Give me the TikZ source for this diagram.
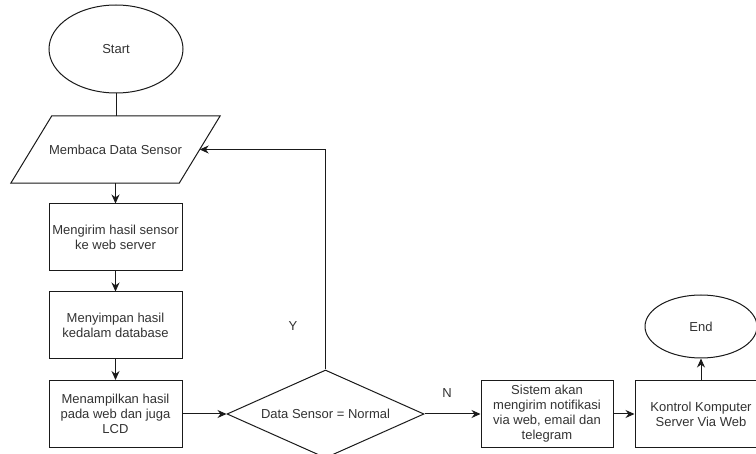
\documentclass[tikz,border=0pt]{standalone}
\usepackage{fontspec}
\setmainfont{Liberation Sans}
\usetikzlibrary{shapes.geometric,arrows.meta}
\definecolor{txt}{HTML}{333333}
\definecolor{ln}{HTML}{1A1A1A}
\tikzset{
  base/.style={draw=ln, line width=1pt, text=txt, font=\fontsize{13pt}{15pt}\selectfont, align=center, inner sep=0pt},
  procbox/.style={base, rectangle, minimum width=133pt, minimum height=67pt},
  term/.style={base, ellipse},
  ghost/.style={inner sep=0pt, text=txt, font=\fontsize{13pt}{15pt}\selectfont, align=center},
  conn/.style={draw=ln, line width=1pt},
  arr/.style={conn, -{Stealth[length=9pt,width=8pt]}},
  lbl/.style={text=txt, font=\fontsize{13pt}{15pt}\selectfont, inner sep=0pt}
}
\begin{document}
\begin{tikzpicture}[x=1pt,y=-1pt]
\useasboundingbox (0,0) rectangle (756,454);
\clip (0,0) rectangle (756,454);
\fill[white] (0,0) rectangle (756,454);

\node[term, minimum width=134pt, minimum height=88pt] (start) at (116,49) {Start};

\node[ghost, minimum width=168pt, minimum height=67pt] (read) at (115.5,149.5) {Membaca Data Sensor};
\draw[conn, line join=miter] ([xshift=20.5pt]read.north west) -- ([xshift=20.5pt]read.north east)
  -- ([xshift=-20.5pt]read.south east) -- ([xshift=-20.5pt]read.south west) -- cycle;

\node[procbox] (send) at (115.5,237.5) {Mengirim hasil sensor\\ke web server};
\node[procbox] (save) at (115.5,325.5) {Menyimpan hasil\\kedalam database};
\node[procbox] (show) at (115.5,414) {Menampilkan hasil\\pada web dan juga\\LCD};

\node[base, diamond, aspect=2.24, minimum width=197pt, minimum height=88pt] (dec) at (325.5,414) {Data Sensor = Normal};

\node[procbox, minimum width=132pt] (notif) at (547,414) {Sistem akan\\mengirim notifikasi\\via web, email dan\\telegram};
\node[procbox, minimum width=132pt] (ctrl) at (701,414) {Kontrol Komputer\\Server Via Web};
\node[term, minimum width=112pt, minimum height=63pt] (end) at (701,326.5) {End};

\node[lbl] (ylab) at (293,326) {Y};
\node[lbl] (nlab) at (447,393) {N};

\draw[conn] (start.south) -- (read.north -| start.south);
\draw[arr] (read.south) -- (send.north);
\draw[arr] (send.south) -- (save.north);
\draw[arr] (save.south) -- (show.north);
\draw[arr] (show.east) -- (dec.west);
\draw[arr] (dec.east) -- (notif.west);
\draw[arr] (notif.east) -- (ctrl.west);
\draw[arr] (ctrl.north) -- (end.south);
\draw[arr] (dec.north) |- (read.east);
\end{tikzpicture}
\end{document}
